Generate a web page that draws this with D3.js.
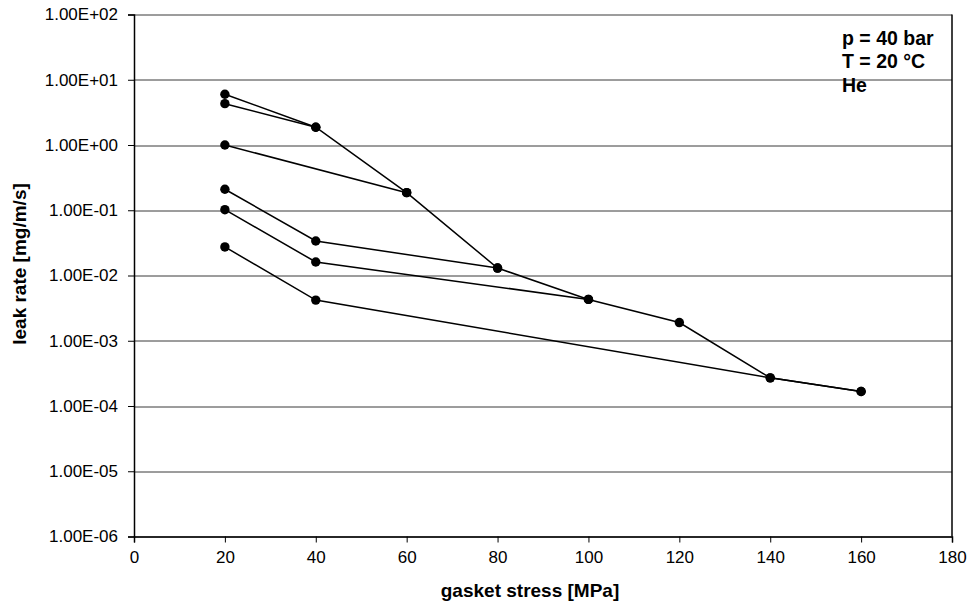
<!DOCTYPE html>
<html>
<head>
<meta charset="utf-8">
<script src="https://cdn.jsdelivr.net/npm/d3@7"></script>
<style>
  body { margin: 0; background: #fff; }
  svg text { font-family: "Liberation Sans", Arial, sans-serif; fill: #000; }
</style>
</head>
<body>
<div id="chart"></div>
<script>
// 数据：每条折线 (gasket stress MPa, leak rate mg/m/s)
const series1 = [[20, 6.0], [40, 1.87], [60, 0.186], [80, 0.013], [100, 0.0043], [120, 0.0019], [140, 0.00027], [160, 0.000167]];
const series2 = [[20, 4.3], [40, 1.87]];
const series3 = [[20, 1.0], [60, 0.186]];
const series4 = [[20, 0.21], [40, 0.0338], [80, 0.013]];
const series5 = [[20, 0.102], [40, 0.0161], [100, 0.0043]];
const series6 = [[20, 0.0274], [40, 0.0042], [140, 0.00027], [160, 0.000167]];
const allSeries = [series1, series2, series3, series4, series5, series6];

const xTicks = [0, 20, 40, 60, 80, 100, 120, 140, 160, 180];
const yTicks = [1e-6, 1e-5, 1e-4, 1e-3, 1e-2, 1e-1, 1e0, 1e1, 1e2];
const notes = ["p = 40 bar", "T = 20 °C", "He"];

const width = 970, height = 605;
const margin = { left: 134, right: 18, top: 14.5, bottom: 68.5 };
const innerW = width - margin.left - margin.right;
const innerH = height - margin.top - margin.bottom;

const svg = d3.select("#chart").append("svg")
    .attr("width", width)
    .attr("height", height);

const x = d3.scaleLinear().domain([0, 180]).range([0, innerW]);
const y = d3.scaleLog().domain([1e-6, 1e2]).range([innerH, 0]);

const g = svg.append("g")
    .attr("transform", `translate(${margin.left},${margin.top})`);

// 网格线
g.append("g")
    .selectAll("line")
    .data(yTicks)
    .enter()
    .append("line")
    .attr("x1", 0)
    .attr("x2", innerW)
    .attr("y1", d => Math.round(y(d)) + 0.5)
    .attr("y2", d => Math.round(y(d)) + 0.5)
    .attr("stroke", "#3a3a3a")
    .attr("stroke-width", 1);

// 右边框
g.append("line")
    .attr("x1", innerW).attr("x2", innerW)
    .attr("y1", 0).attr("y2", innerH)
    .attr("stroke", "#000").attr("stroke-width", 1.5);

// y 轴
const fmt = d => {
  const e = Math.round(Math.log10(d));
  return "1.00E" + (e < 0 ? "-" : "+") + String(Math.abs(e)).padStart(2, "0");
};
const yAxis = g.append("g")
    .call(d3.axisLeft(y).tickValues(yTicks).tickFormat(fmt).tickSize(6).tickPadding(10));
yAxis.select(".domain").attr("stroke", "#000").attr("stroke-width", 1.5);
yAxis.selectAll(".tick line").attr("stroke", "#000");
yAxis.selectAll(".tick text").style("font-size", "17px").attr("fill", "#000");

// x 轴
const xAxis = g.append("g")
    .attr("transform", `translate(0,${innerH})`)
    .call(d3.axisBottom(x).tickValues(xTicks).tickSize(6).tickPadding(8));
xAxis.select(".domain").attr("stroke", "#000").attr("stroke-width", 1.5);
xAxis.selectAll(".tick line").attr("stroke", "#000");
xAxis.selectAll(".tick text").style("font-size", "17px").attr("fill", "#000");

// 折线
const line = d3.line().x(d => x(d[0])).y(d => y(d[1]));
g.selectAll("path.series")
    .data(allSeries)
    .enter()
    .append("path")
    .attr("class", "series")
    .attr("d", line)
    .attr("fill", "none")
    .attr("stroke", "#000")
    .attr("stroke-width", 1.5);

// 圆点
g.selectAll("g.pts")
    .data(allSeries)
    .enter()
    .append("g")
    .attr("class", "pts")
    .selectAll("circle")
    .data(d => d)
    .enter()
    .append("circle")
    .attr("cx", d => x(d[0]))
    .attr("cy", d => y(d[1]))
    .attr("r", 4.7)
    .attr("fill", "#000");

// 注释
svg.append("g")
    .selectAll("text")
    .data(notes)
    .enter()
    .append("text")
    .attr("x", 842)
    .attr("y", (d, i) => 45 + i * 23.3)
    .style("font-size", "19.5px")
    .style("font-weight", "bold")
    .text(d => d);

// 轴标题
svg.append("text")
    .attr("x", 530)
    .attr("y", 597)
    .attr("text-anchor", "middle")
    .style("font-size", "19px")
    .style("font-weight", "bold")
    .text("gasket stress [MPa]");

svg.append("text")
    .attr("transform", "translate(26,264) rotate(-90)")
    .attr("text-anchor", "middle")
    .style("font-size", "19px")
    .style("font-weight", "bold")
    .text("leak rate [mg/m/s]");
</script>
</body>
</html>
